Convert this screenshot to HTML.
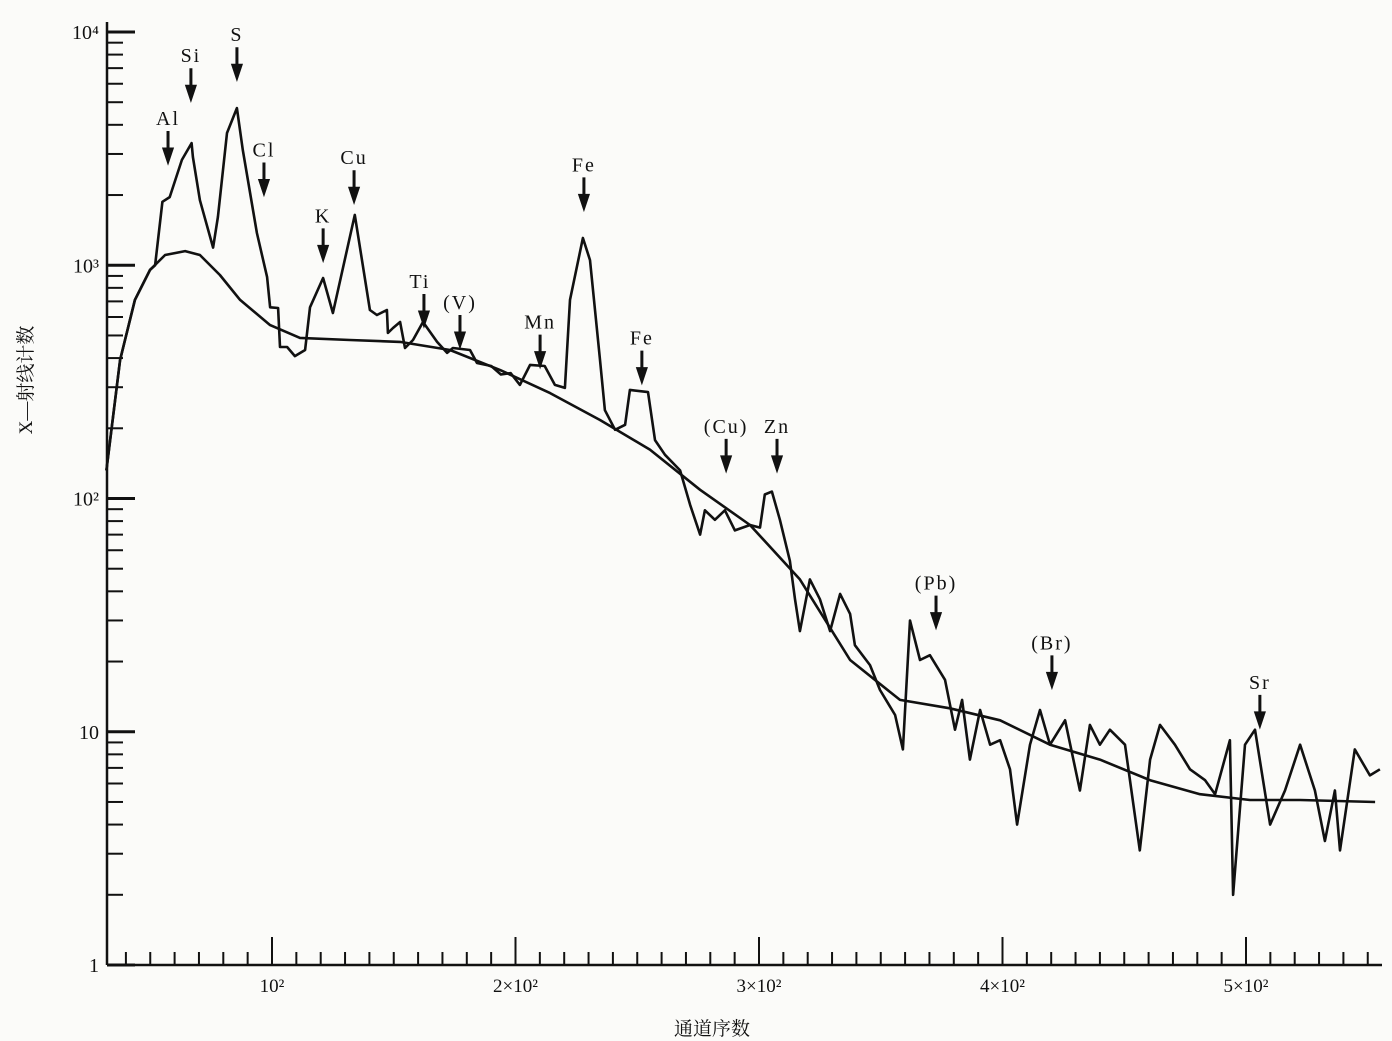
<!DOCTYPE html>
<html><head><meta charset="utf-8">
<style>
html,body{margin:0;padding:0;background:#fbfbf9;}
svg{display:block;}
text{font-family:"Liberation Serif","Noto Serif CJK SC",serif;fill:#111;}
</style></head>
<body>
<svg id="chart" width="1392" height="1041" viewBox="0 0 1392 1041" xmlns="http://www.w3.org/2000/svg">
<rect width="1392" height="1041" fill="#fbfbf9"/>
<g id="axes"></g>
<g id="series"></g>
<g id="peaks"></g>
<text x="712" y="1035" font-size="19" text-anchor="middle" font-family="Noto Serif CJK SC, serif">通道序数</text>
<text transform="translate(32,380) rotate(-90)" font-size="19" text-anchor="middle" font-family="Liberation Serif, Noto Serif CJK SC, serif">X—射线计数</text>
</svg>
<script>
const specCh = [32,37.6,43.7,49.9,52,55,58,63,67,67.5,70.4,75.8,77.8,81.5,85.6,88,93.8,98,99.2,102.5,103.3,106.2,109.4,113.6,115.6,121,125,134,140.2,143.1,147.2,147.6,149.7,152.6,154.6,157.9,162,167.8,171.9,174.3,181.3,184.2,190,194,198,201.8,206,212,216.2,220.3,222.4,227.7,230.6,234.7,236.7,240.9,245,247,254.4,257.3,261.4,267.6,271.7,275.8,277.8,281.9,286,290.1,296.3,300.4,302.4,305.3,308.6,312.7,314.8,316.8,320.9,325,329.2,333.3,337.4,339.4,345.6,349.7,355.9,359.1,362,366.1,370.2,376.4,380.5,383.4,386.6,390.8,394.9,399,403.1,406,411.3,415.4,419.5,425.7,431.8,435.9,440,444.1,450.3,456.4,460.6,464.7,470.8,477,483.2,487.3,493.4,494.7,499.6,503.7,509.9,516,522.2,528.3,532.4,536.5,538.6,544.7,550.9,555];
const specCounts = [132,393,710,955,1000,1870,1960,2830,3340,2910,1900,1190,1610,3690,4720,3120,1375,890,660,656,446,446,408,433,660,882,624,1644,643,612,643,513,538,571,442,478,571,469,421,442,433,381,370,340,345,307,374,370,307,298,710,1309,1052,393,239,197,207,292,286,178,154,132,94,70,89,81,89,73,77,75,104,107,81,54,37,27,45,37,27,39,32,23.5,19.3,15.1,11.8,8.4,30,20.3,21.3,16.7,10.2,13.7,7.6,12.4,8.8,9.2,6.9,4.0,8.8,12.4,8.8,11.2,5.6,10.7,8.8,10.2,8.8,3.1,7.6,10.7,8.8,6.9,6.2,5.4,9.2,2.0,8.8,10.2,4.0,5.6,8.8,5.6,3.4,5.6,3.1,8.4,6.5,6.9];
const bgCh = [32,37.6,43.7,49.9,56.1,64.3,70.4,78.6,86.9,99.2,111.5,132,152.6,173.1,193.6,214.2,234.7,255.2,275.8,296.3,316.8,337.4,357.9,378.4,399,419.5,440,460.6,481.1,501.6,522.2,553];
const bgCounts = [132,393,710,955,1107,1150,1107,908,710,554,488,478,469,433,356,283,217,162,109,77,45,20.3,13.7,12.6,11.2,8.8,7.6,6.2,5.4,5.1,5.1,5.0];
const xTickValues = [100,200,300,400,500];
const xTickLabels = ["10²","2×10²","3×10²","4×10²","5×10²"];
const yDecades = [1,10,100,1000,10000];
const yTickLabels = ["1","10","10²","10³","10⁴"];
const peakNames = ["Al","Si","S","Cl","K","Cu","Ti","(V)","Mn","Fe","Fe","(Cu)","Zn","(Pb)","(Br)","Sr"];
const peakChannels = [57.3,66.7,85.6,96.7,121,133.7,162.4,177.2,210.1,228.1,251.9,286.5,307.4,372.7,420.3,505.7];
const peakArrowCounts = [2800,5200,6400,2050,1070,1900,560,455,375,1770,320,134,134,28.5,15.8,10.7];

const X0=107, Y0=965;
function xScale(c){return 28.5 + c*2.435;}
function yScale(v){return 965 - Math.log10(v)*233.25;}
const NS="http://www.w3.org/2000/svg";
function mk(tag,parent){const e=document.createElementNS(NS,tag);parent.appendChild(e);return e;}

const axes=document.getElementById('axes');
const ya=mk('line',axes);
ya.setAttribute('x1',X0);ya.setAttribute('x2',X0);ya.setAttribute('y1',22);ya.setAttribute('y2',Y0);
ya.setAttribute('stroke','#111');ya.setAttribute('stroke-width','2.5');


const xa=mk('line',axes);
xa.setAttribute('x1',X0);xa.setAttribute('x2',1382);xa.setAttribute('y1',Y0);xa.setAttribute('y2',Y0);
xa.setAttribute('stroke','#111');xa.setAttribute('stroke-width','2.5');



for(let d=0; d<yDecades.length; d++){
  for(let m=1;m<=9;m++){
    if(d==yDecades.length-1 && m>1) break;
    const v=yDecades[d]*m, y=yScale(v);
    const t=mk('line',axes);
    t.setAttribute('x1',X0);t.setAttribute('x2',X0+(m==1?28:16));
    t.setAttribute('y1',y);t.setAttribute('y2',y);
    t.setAttribute('stroke','#111');t.setAttribute('stroke-width',m==1?'3':'2');
    
    
  }
  const lb=mk('text',axes);
  lb.setAttribute('x',X0-8);lb.setAttribute('y',yScale(yDecades[d])+7);
  lb.setAttribute('text-anchor','end');lb.setAttribute('font-size','20');
  lb.textContent=yTickLabels[d];
  
  
}
for(let c=40;c<=550;c+=10){
  const x=xScale(c), major=(c%100==0);
  const t=mk('line',axes);
  t.setAttribute('x1',x);t.setAttribute('x2',x);
  t.setAttribute('y1',Y0);t.setAttribute('y2',Y0-(major?28:13));
  t.setAttribute('stroke','#111');t.setAttribute('stroke-width','2');
  
  
}
for(let i=0;i<xTickValues.length;i++){
  const lb=mk('text',axes);
  lb.setAttribute('x',xScale(xTickValues[i]));lb.setAttribute('y',Y0+27);
  lb.setAttribute('text-anchor','middle');lb.setAttribute('font-size','19');
  lb.textContent=xTickLabels[i];
  
  
}

const series=document.getElementById('series');
function line(chs,vals,name){
  let d='';
  for(let i=0;i<chs.length;i++) d+=(i?'L':'M')+xScale(chs[i]).toFixed(1)+','+yScale(vals[i]).toFixed(1);
  const p=mk('path',series);
  p.setAttribute('d',d);p.setAttribute('fill','none');
  p.setAttribute('stroke','#111');p.setAttribute('stroke-width','2.6');p.setAttribute('stroke-linejoin','round');
  
  
}
line(bgCh,bgCounts,'background-curve');
line(specCh,specCounts,'spectrum-curve');

const peaks=document.getElementById('peaks');
for(let i=0;i<peakNames.length;i++){
  const x=xScale(peakChannels[i]), yb=yScale(peakArrowCounts[i]), yt=yb-30;
  const a=mk('path',peaks);
  a.setAttribute('d',`M${x},${yt}L${x},${yb-10}M${x-4},${yb-12}L${x+4},${yb-12}L${x},${yb}Z`);
  a.setAttribute('stroke','#111');a.setAttribute('stroke-width','3');a.setAttribute('fill','#111');
  
  
  const t=mk('text',peaks);
  t.setAttribute('x',x+(peakNames[i]=='Ti'?-4:0));t.setAttribute('y',yt-6);
  t.setAttribute('text-anchor','middle');t.setAttribute('font-size','20');
  t.setAttribute('letter-spacing','2');
  t.textContent=peakNames[i];
  
  
}
</script>
</body></html>
